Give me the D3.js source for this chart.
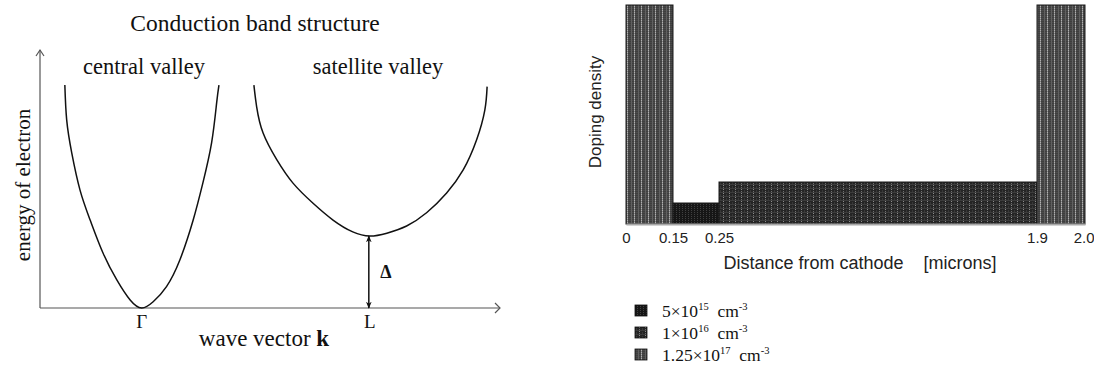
<!DOCTYPE html>
<html>
<head>
<meta charset="utf-8">
<script src="https://cdn.jsdelivr.net/npm/d3@7"></script>
<style>
  html, body { margin: 0; padding: 0; background: #fff; }
  svg { display: block; }
</style>
</head>
<body>
<svg id="chart" width="1094" height="366"></svg>
<script>
// ---- Conduction band structure (left panel) ----
// wave vector k (arbitrary units) and electron energy (arbitrary units)
const centralK = [5.4, 5.8, 6.9, 8.7, 10.9, 13.7, 16.7, 19.6, 22.1, 24.6, 27.5, 30.4, 33.3, 35.4, 37.3, 38.4, 38.9];
const centralE = [86.4, 72.9, 60.1, 45.7, 34.1, 21.3, 10.9, 3.1, 0.0, 2.4, 8.3, 18.6, 34.1, 48.4, 64.0, 79.5, 86.4];
const satelliteK = [46.5, 47.1, 48.5, 51.5, 55.0, 59.3, 63.7, 68.0, 71.7, 75.4, 79.7, 84.1, 88.4, 92.0, 94.9, 96.7, 97.2];
const satelliteE = [86.4, 78.0, 67.8, 57.4, 48.4, 40.7, 34.1, 29.5, 27.9, 29.0, 31.8, 37.0, 44.6, 53.5, 65.1, 76.7, 85.8];
const valleyPoints = ["Γ", "L"];
const valleyK = [22.1, 71.7];
const satelliteMinE = 27.9;   // energy gap Δ between valleys

// ---- Doping profile (right panel) ----
const segStart = [0, 0.15, 0.25, 1.9];
const segEnd = [0.15, 0.25, 1.9, 2.0];
const segDoping = [1.25e17, 5e15, 1e16, 1.25e17];
const tickValues = [0, 0.15, 0.25, 1.9, 2.0];
const tickLabels = ["0", "0.15", "0.25", "1.9", "2.0"];
const legendMantissa = ["5", "1", "1.25"];
const legendExponent = ["15", "16", "17"];
const legendLevels = [5e15, 1e16, 1.25e17];

const svg = d3.select("#chart");
const serif = "'Liberation Serif', 'Times New Roman', serif";
const sans = "'Liberation Sans', Arial, sans-serif";

// ================= Left panel =================
const x = d3.scaleLinear().domain([0, 100]).range([40, 500]);
const y = d3.scaleLinear().domain([0, 100]).range([308, 50]);
const left = svg.append("g");

// axes with open arrowheads
const axisColor = "#555";
left.append("line").attr("x1", x(0)).attr("y1", y(0)).attr("x2", x(100)).attr("y2", y(0))
  .attr("stroke", axisColor).attr("stroke-width", 1.2);
left.append("line").attr("x1", x(0)).attr("y1", y(0)).attr("x2", x(0)).attr("y2", y(100))
  .attr("stroke", axisColor).attr("stroke-width", 1.2);
left.append("path")
  .attr("d", `M${x(100) - 5},${y(0) - 5} L${x(100)},${y(0)} L${x(100) - 5},${y(0) + 5}`)
  .attr("fill", "none").attr("stroke", axisColor).attr("stroke-width", 1.2);
left.append("path")
  .attr("d", `M${x(0) - 4},${y(100) + 6} L${x(0)},${y(100)} L${x(0) + 4},${y(100) + 6}`)
  .attr("fill", "none").attr("stroke", axisColor).attr("stroke-width", 1.2);

// band curves
const band = d3.line().x(d => x(d[0])).y(d => y(d[1])).curve(d3.curveNatural);
left.append("path").datum(d3.zip(centralK, centralE))
  .attr("d", band).attr("fill", "none").attr("stroke", "#111").attr("stroke-width", 1.5);
left.append("path").datum(d3.zip(satelliteK, satelliteE))
  .attr("d", band).attr("fill", "none").attr("stroke", "#111").attr("stroke-width", 1.5);

// Δ double arrow
const defs = svg.append("defs");
defs.append("marker").attr("id", "arrowHead")
  .attr("viewBox", "0 0 10 10").attr("refX", 9).attr("refY", 5)
  .attr("markerWidth", 7).attr("markerHeight", 7).attr("orient", "auto-start-reverse")
  .attr("markerUnits", "userSpaceOnUse")
  .append("path").attr("d", "M0,1 L10,5 L0,9 L3,5 Z").attr("fill", "#111");
left.append("line")
  .attr("x1", x(valleyK[1]) - 1).attr("y1", y(0))
  .attr("x2", x(valleyK[1]) - 1).attr("y2", y(satelliteMinE))
  .attr("stroke", "#111").attr("stroke-width", 1.5)
  .attr("marker-start", "url(#arrowHead)").attr("marker-end", "url(#arrowHead)");
left.append("text").attr("x", x(valleyK[1]) + 16).attr("y", 278)
  .attr("text-anchor", "middle").attr("font-family", serif).attr("font-size", 18)
  .attr("font-weight", "bold").attr("fill", "#111").text("Δ");

// valley point labels
left.selectAll("text.kpt").data(valleyPoints).join("text")
  .attr("class", "kpt")
  .attr("x", (d, i) => x(valleyK[i]))
  .attr("y", 328)
  .attr("text-anchor", "middle").attr("font-family", serif).attr("font-size", 19)
  .attr("fill", "#111").text(d => d);

// titles and labels
left.append("text").attr("x", 255).attr("y", 31).attr("text-anchor", "middle")
  .attr("font-family", serif).attr("font-size", 23.5).attr("fill", "#111")
  .text("Conduction band structure");
left.append("text").attr("x", 144).attr("y", 74).attr("text-anchor", "middle")
  .attr("font-family", serif).attr("font-size", 22.5).attr("fill", "#111")
  .text("central valley");
left.append("text").attr("x", 378).attr("y", 74).attr("text-anchor", "middle")
  .attr("font-family", serif).attr("font-size", 22.5).attr("fill", "#111")
  .text("satellite valley");
const xl = left.append("text").attr("x", 264).attr("y", 346).attr("text-anchor", "middle")
  .attr("font-family", serif).attr("font-size", 23).attr("fill", "#111");
xl.append("tspan").text("wave vector ");
xl.append("tspan").attr("font-weight", "bold").text("k");
left.append("text").attr("transform", "translate(30,185) rotate(-90)")
  .attr("text-anchor", "middle").attr("font-family", serif).attr("font-size", 21)
  .attr("fill", "#111").text("energy of electron");

// ================= Right panel =================
// fill textures for the three doping levels
function makePattern(id, w, h, bg, dots) {
  const p = defs.append("pattern").attr("id", id).attr("patternUnits", "userSpaceOnUse")
    .attr("width", w).attr("height", h);
  p.append("rect").attr("width", w).attr("height", h).attr("fill", bg);
  dots.forEach(([dx, dy, dw, dh, c]) =>
    p.append("rect").attr("x", dx).attr("y", dy).attr("width", dw).attr("height", dh).attr("fill", c));
}
// 5e15: near-black with faint dotted columns
makePattern("dopeLow", 3, 2, "#161616", [[1, 0, 1, 1, "#404040"]]);
// 1e16: dark grid with dotted light columns
makePattern("dopeMid", 6, 4, "#252525", [
  [0, 0, 6, 1, "#3c3c3c"], [3, 1, 1, 1, "#8c8c8c"], [3, 3, 1, 1, "#6e6e6e"], [0, 2, 1, 2, "#383838"]
]);
// 1.25e17: grey with light dotted stripes
makePattern("dopeHigh", 7, 2, "#3e3e3e", [
  [0, 0, 7, 1, "#4a4a4a"], [1, 0, 1, 2, "#606060"], [4, 0, 1, 1, "#b0b0b0"], [4, 1, 1, 1, "#808080"]
]);
const fillFor = v => v >= 1e17 ? "url(#dopeHigh)" : (v >= 1e16 ? "url(#dopeMid)" : "url(#dopeLow)");

const xr = d3.scaleLinear().domain(tickValues).range([626, 673, 719, 1037, 1085]);
const yr = d3.scaleLinear().domain([0, 5e15, 1e16, 1.25e17]).range([224, 203, 182, 5]);
const right = svg.append("g");

right.selectAll("rect.seg").data(segDoping).join("rect")
  .attr("class", "seg")
  .attr("x", (d, i) => xr(segStart[i]))
  .attr("y", d => yr(d))
  .attr("width", (d, i) => xr(segEnd[i]) - xr(segStart[i]))
  .attr("height", d => yr(0) - yr(d))
  .attr("fill", d => fillFor(d))
  .attr("stroke", "#1a1a1a").attr("stroke-width", 1);

// distance axis
const xAxis = d3.axisBottom(xr).tickValues(tickValues)
  .tickFormat((d, i) => tickLabels[i]).tickSize(0).tickPadding(8);
const ax = right.append("g").attr("transform", `translate(0,${yr(0)})`).call(xAxis);
ax.select(".domain").attr("stroke", "#a8a8a8").attr("stroke-width", 2);
ax.selectAll("text").attr("font-family", sans).attr("font-size", 15).attr("fill", "#222");
// keep the last label inside the frame
ax.selectAll(".tick:last-of-type text").attr("text-anchor", "end").attr("dx", 9);

right.append("text").attr("x", 860).attr("y", 269).attr("text-anchor", "middle")
  .attr("font-family", sans).attr("font-size", 18).attr("fill", "#222")
  .attr("xml:space", "preserve")
  .text("Distance from cathode    [microns]");
right.append("text").attr("transform", "translate(601,112) rotate(-90)")
  .attr("text-anchor", "middle").attr("font-family", sans).attr("font-size", 17)
  .attr("fill", "#222").text("Doping density");

// legend
const lg = right.selectAll("g.lg").data(legendLevels).join("g")
  .attr("class", "lg")
  .attr("transform", (d, i) => `translate(0,${i * 22})`);
lg.append("rect").attr("x", 635).attr("y", 305).attr("width", 12).attr("height", 11)
  .attr("fill", d => fillFor(d)).attr("stroke", "#111").attr("stroke-width", 0.8);
const lt = lg.append("text").attr("x", 662).attr("y", 316.5)
  .attr("font-family", serif).attr("font-size", 17.5).attr("fill", "#111")
  .attr("xml:space", "preserve");
lt.append("tspan").text((d, i) => legendMantissa[i] + "×10");
lt.append("tspan").attr("font-size", 10.5).attr("dy", -7).text((d, i) => legendExponent[i]);
lt.append("tspan").attr("dy", 7).text("  cm");
lt.append("tspan").attr("font-size", 10.5).attr("dy", -7).text("-3");
</script>
</body>
</html>
